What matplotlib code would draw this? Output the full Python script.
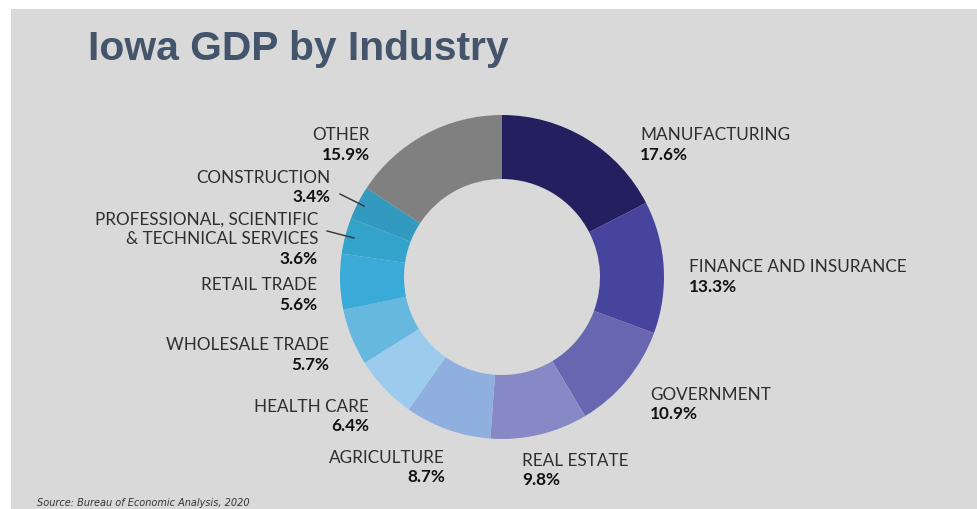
import matplotlib.pyplot as plt
from matplotlib.patches import Rectangle

# data
industries = ['MANUFACTURING', 'FINANCE AND INSURANCE', 'GOVERNMENT', 'REAL ESTATE',
              'AGRICULTURE', 'HEALTH CARE', 'WHOLESALE TRADE', 'RETAIL TRADE',
              'PROFESSIONAL, SCIENTIFIC\n& TECHNICAL SERVICES', 'CONSTRUCTION', 'OTHER']
shares = [17.6, 13.3, 10.9, 9.8, 8.7, 6.4, 5.7, 5.6, 3.6, 3.4, 15.9]
colors = ['#241f5e', '#46449c', '#6866b0', '#8789c7', '#8fb0df', '#9ccbee',
          '#66b8df', '#3aabd8', '#34a3cc', '#3299bf', '#808080']

W, H = 977, 510
fig = plt.figure(figsize=(W / 100, H / 100), dpi=100, facecolor='white')
ax = fig.add_axes([0, 0, 1, 1])

# gray slide area (white margin top / left)
ax.add_patch(Rectangle((11, 0), W - 11, H - 10, facecolor='#d9d9d9', edgecolor='none', zorder=0))

ax.pie(shares, colors=colors, startangle=90, counterclock=False,
       center=(502, H - 278), radius=162, frame=True,
       wedgeprops=dict(width=64, edgecolor='none'))
ax.set_xlim(0, W)
ax.set_ylim(0, H)
ax.set_aspect('equal')
ax.axis('off')

ax.text(88, H - 49, 'Iowa GDP by Industry', fontsize=29.3, fontweight='bold',
        color='#44546a', family='Liberation Sans', va='center', ha='left')

# label anchor (x, y of first line) and alignment, in pixel coords
pos = [(640, 135, 'left'), (689, 267, 'left'), (650, 395, 'left'), (522, 461, 'left'),
       (445, 458, 'right'), (369, 407, 'right'), (329, 345, 'right'), (317, 285, 'right'),
       (318, 220, 'right'), (330, 178, 'right'), (370, 135, 'right')]

for name, val, (x, y, ha) in zip(industries, shares, pos):
    lines = name.split('\n')
    for i, line in enumerate(lines):
        ax.text(x, H - y - 19.5 * i, line, fontsize=12.3, color='#2e2e2e', family='Lato',
                ha=ha, va='center')
    ax.text(x, H - y - 19.5 * len(lines), f'{val}%', fontsize=12.3, fontweight='bold',
            color='#111111', family='Lato', ha=ha, va='center')

# leader lines for the thin slices
ax.plot([340, 364], [H - 195, H - 207], color='#333333', lw=1)
ax.plot([327, 354], [H - 232, H - 239], color='#333333', lw=1)

ax.text(37, H - 503, 'Source: Bureau of Economic Analysis, 2020', fontsize=7,
        style='italic', color='#333333', va='center', ha='left')

fig.savefig('out.png', dpi=100, facecolor='white')
